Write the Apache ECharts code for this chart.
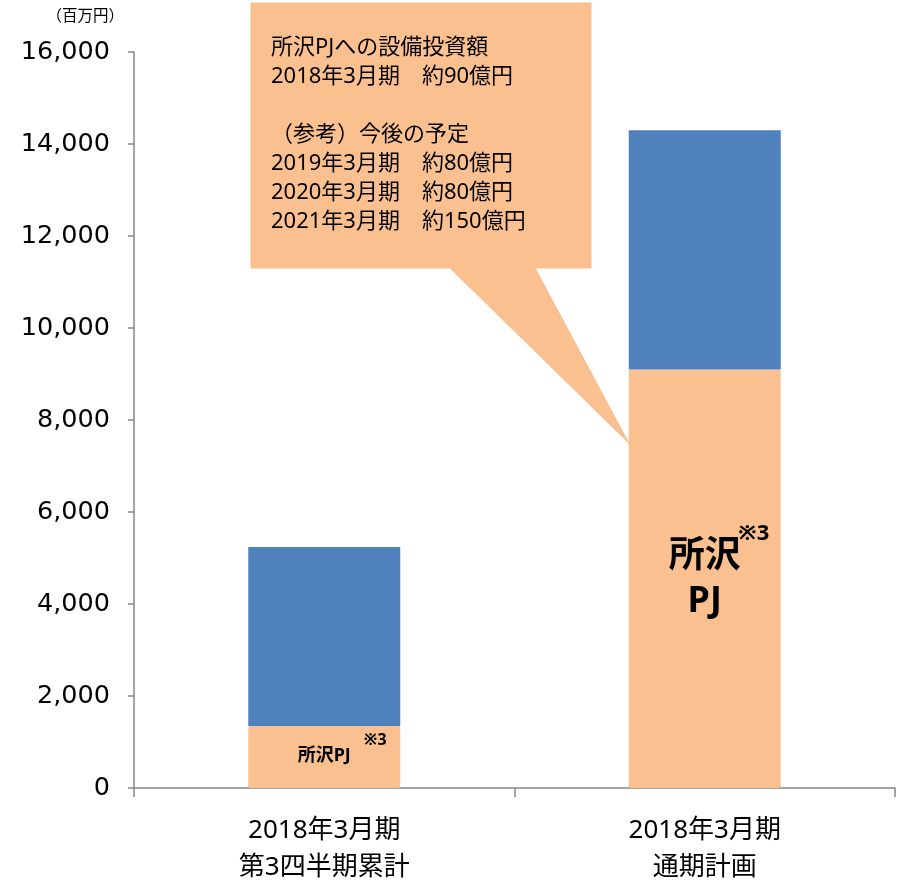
<!DOCTYPE html>
<html>
<head>
<meta charset="utf-8">
<script src="https://cdn.jsdelivr.net/npm/echarts@6/dist/echarts.min.js"></script>
<style>
  html, body { margin: 0; padding: 0; background: #fff; }
  #chart { width: 901px; height: 889px; }
</style>
</head>
<body>
<div id="chart"></div>
<script>
// 区分
const categories = ['2018年3月期\n第3四半期累計', '2018年3月期\n通期計画']
// 所沢PJ（百万円）
const pjValues = [1350, 9100]
// その他（百万円）
const otherValues = [3890, 5200]
const yTicks = [0, 2000, 4000, 6000, 8000, 10000, 12000, 14000, 16000]
const calloutLines = [
  '所沢PJへの設備投資額',
  '2018年3月期\u3000約90億円',
  '',
  '（参考）今後の予定',
  '2019年3月期\u3000約80億円',
  '2020年3月期\u3000約80億円',
  '2021年3月期\u3000約150億円'
]

const ORANGE = '#FAC090'
const BLUE = '#4F81BD'
const AXIS = '#868686'
const CJK = '"Noto Sans", "Noto Sans CJK JP", sans-serif'

// 棒内ラベル（※3 は上付き）
const pjLabels = [
  {
    offset: [0, -7],
    formatter: '{sp|}{s|※3}\n{a|所沢PJ}',
    rich: {
      sp: { width: 102, lineHeight: 12 },
      s: { fontFamily: CJK, fontWeight: 'bold', fontSize: 16, color: '#000', width: 26, lineHeight: 12 },
      a: { fontFamily: CJK, fontWeight: 'bold', fontSize: 18, color: '#000', lineHeight: 20 }
    }
  },
  {
    offset: [0, 0],
    formatter: '{sp|}{s|※3}\n{a|所沢}\n{a|PJ}',
    rich: {
      sp: { width: 98, lineHeight: 2 },
      s: { fontFamily: CJK, fontWeight: 'bold', fontSize: 22, color: '#000', width: 36, lineHeight: 2 },
      a: { fontFamily: CJK, fontWeight: 'bold', fontSize: 36, color: '#000', lineHeight: 45 }
    }
  }
]

const chart = echarts.init(document.getElementById('chart'))

const option = {
  animation: false,
  grid: { left: 134, right: 6, top: 52, bottom: 101, containLabel: false },
  xAxis: {
    type: 'category',
    data: categories,
    boundaryGap: true,
    axisLine: { lineStyle: { color: AXIS, width: 1.5 } },
    axisTick: { show: true, length: 9, lineStyle: { color: AXIS, width: 1.5 } },
    axisLabel: {
      color: '#000',
      fontFamily: CJK,
      fontSize: 26,
      lineHeight: 37,
      margin: 24
    }
  },
  yAxis: {
    type: 'value',
    min: yTicks[0],
    max: yTicks[yTicks.length - 1],
    interval: yTicks[1] - yTicks[0],
    name: '（百万円）',
    nameLocation: 'end',
    nameGap: 28,
    nameTextStyle: {
      color: '#000',
      fontFamily: CJK,
      fontSize: 15.5,
      align: 'right',
      padding: [0, 10, 0, 0]
    },
    splitLine: { show: false },
    axisLine: { show: true, lineStyle: { color: AXIS, width: 1.5 } },
    axisTick: { show: true, length: 6, lineStyle: { color: AXIS, width: 1.5 } },
    axisLabel: {
      color: '#000',
      fontFamily: '"DejaVu Sans", Verdana, sans-serif',
      fontSize: 25.5,
      margin: 24,
      formatter: v => v.toLocaleString('en-US')
    }
  },
  series: [
    {
      name: '所沢PJ',
      type: 'bar',
      stack: 'total',
      barWidth: 152,
      data: pjValues.map((v, i) => ({
        value: v,
        label: Object.assign({ show: true, position: 'inside' }, pjLabels[i])
      })),
      itemStyle: { color: ORANGE, borderRadius: 2 }
    },
    {
      name: 'その他',
      type: 'bar',
      stack: 'total',
      barWidth: 152,
      data: otherValues,
      itemStyle: { color: BLUE }
    }
  ]
}

chart.setOption(option)

// 吹き出し（先端は通期計画の棒の左端に合わせる）
const tip = chart.convertToPixel({ xAxisIndex: 0, yAxisIndex: 0 }, [1, 7500])
const tipX = tip[0] - 76
const tipY = tip[1]

chart.setOption({
  graphic: [
    {
      type: 'polygon',
      z: 10,
      shape: {
        points: [[251, 3], [591, 3], [591, 268], [535, 268], [tipX, tipY], [450, 268], [251, 268]]
      },
      style: { fill: ORANGE, stroke: '#F7BE8E', lineWidth: 1 }
    },
    {
      type: 'text',
      z: 11,
      left: 271,
      top: 33,
      style: {
        text: calloutLines.join('\n'),
        fill: '#000',
        font: '22px ' + CJK,
        lineHeight: 29
      }
    }
  ]
})
</script>
</body>
</html>
